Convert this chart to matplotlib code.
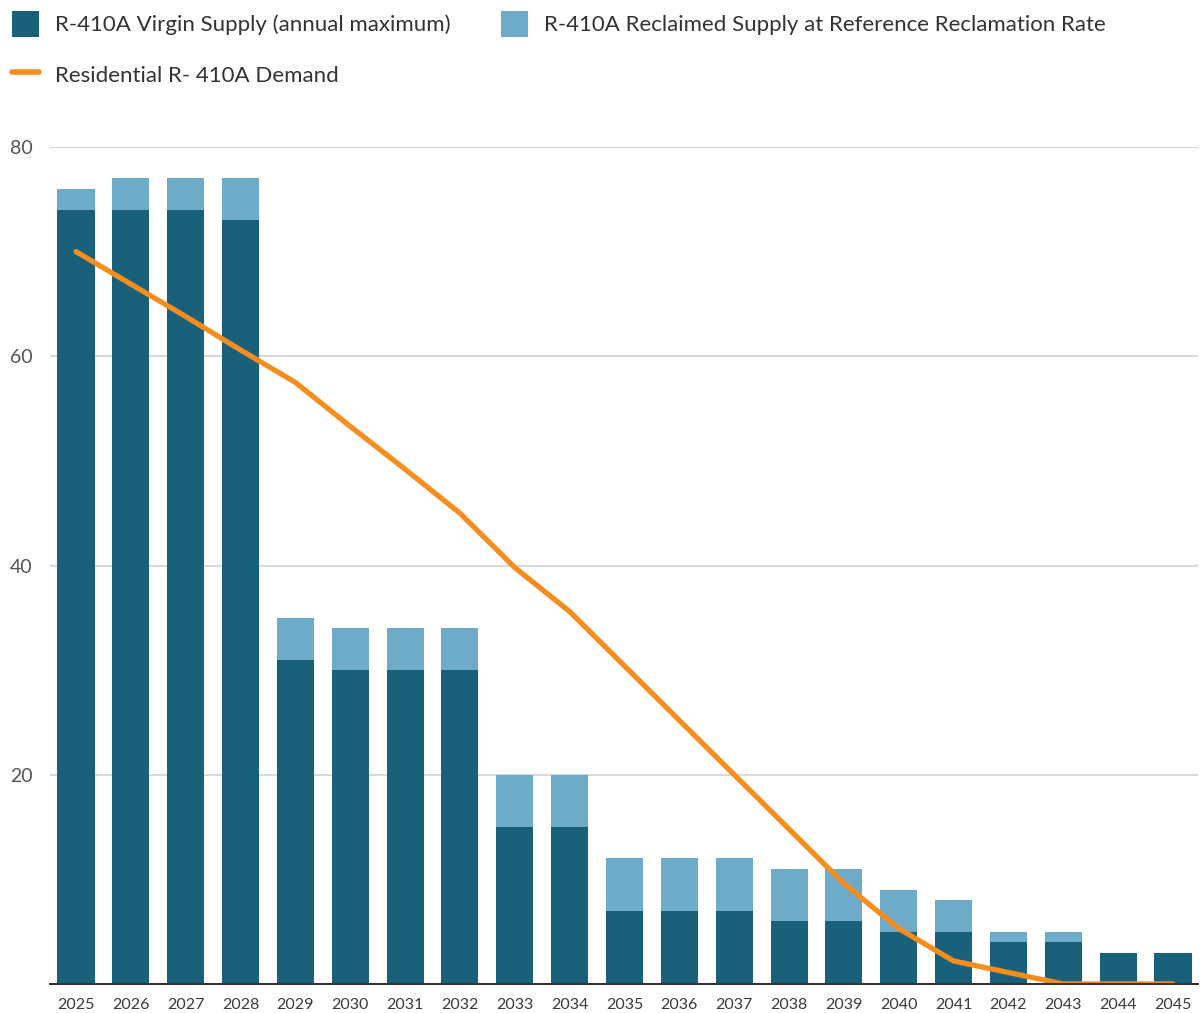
import matplotlib.pyplot as plt
import numpy as np
from matplotlib.patches import Patch
from matplotlib.lines import Line2D

years = list(range(2025, 2046))
virgin_supply = [74, 74, 74, 73, 31, 30, 30, 30, 15, 15, 7, 7, 7, 6, 6, 5, 5, 4, 4, 3, 3]
reclaimed_supply = [2, 3, 3, 4, 4, 4, 4, 4, 5, 5, 5, 5, 5, 5, 5, 4, 3, 1, 1, 0, 0]
residential_demand = [70, 66.9, 63.8, 60.6, 57.5, 53.3, 49.2, 45.0, 39.8, 35.6,
                      30.4, 25.2, 20.0, 14.8, 9.6, 5.3, 2.2, 1.1, 0, 0, 0]

c_virgin = '#19607a'
c_reclaimed = '#6dabc8'
c_demand = '#f68e1f'

plt.rcParams['font.family'] = ['Lato', 'DejaVu Sans']

fig = plt.figure(figsize=(12.04, 10.13), dpi=100)
ax = fig.add_axes([50 / 1204, 1 - 984 / 1013, 1148 / 1204, (984 - 147) / 1013])

x = np.arange(len(years))
ax.bar(x, virgin_supply, width=0.675, color=c_virgin, zorder=2)
ax.bar(x, reclaimed_supply, width=0.675, bottom=virgin_supply, color=c_reclaimed, zorder=2)
ax.plot(x, residential_demand, color=c_demand, linewidth=3.8, solid_capstyle='round',
        solid_joinstyle='round', zorder=3)

ax.set_xlim(-0.474, 20.456)
ax.set_ylim(0, 80)
ax.set_yticks([20, 40, 60, 80])
ax.set_xticks(x)
ax.set_xticklabels([str(y) for y in years])
ax.tick_params(axis='x', length=0, pad=10, labelsize=11.5, labelcolor='#3a3a3a')
ax.tick_params(axis='y', length=0, pad=12.5, labelsize=14, labelcolor='#555555')

ax.grid(axis='y', color='#d9d9d9', linewidth=1.5, zorder=0)
ax.set_axisbelow(True)
for side in ['top', 'right', 'left']:
    ax.spines[side].set_visible(False)
ax.spines['bottom'].set_color('#333333')
ax.spines['bottom'].set_linewidth(1.5)
ax.spines['bottom'].set_zorder(4)

handles = [
    Patch(facecolor=c_virgin, label='R-410A Virgin Supply (annual maximum)'),
    Line2D([0], [0], color=c_demand, linewidth=4, solid_capstyle='round',
           label='Residential R- 410A Demand'),
    Patch(facecolor=c_reclaimed, label='R-410A Reclaimed Supply at Reference Reclamation Rate'),
]
fig.legend(handles=handles, ncol=2, loc='upper left',
           bbox_to_anchor=(3 / 1204, 1 - 2 / 1013),
           frameon=False, fontsize=16, handlelength=1.2, handleheight=1.45,
           handletextpad=0.75, columnspacing=2.25, labelspacing=1.1,
           labelcolor='#333333', borderaxespad=0)

fig.savefig('out.png', dpi=100)
